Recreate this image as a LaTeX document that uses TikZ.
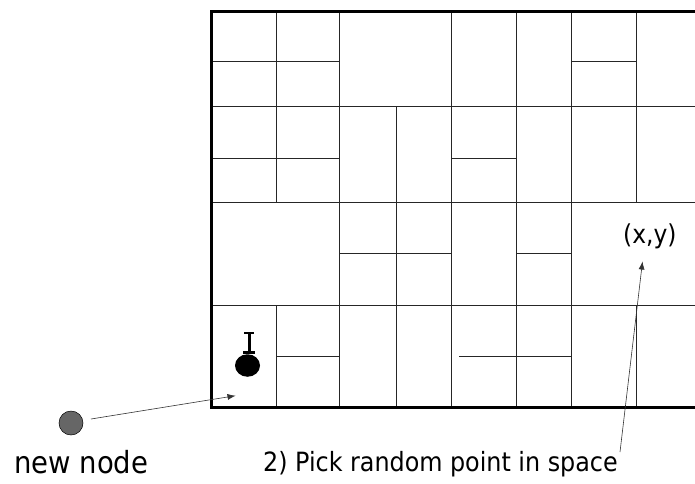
\documentclass[tikz,border=0pt]{standalone}
\usepackage{fontspec}
\setmainfont{DejaVu Sans Condensed}
\usetikzlibrary{arrows.meta,shapes.geometric}
\tikzset{
  grid/.style={draw=black!85, line width=0.8pt},
  frame/.style={draw=black, line width=2.8pt},
  lbl/.style={inner sep=0pt, anchor=base west, text=black},
  arr/.style={draw=black!80, line width=0.6pt, -{Latex[length=8pt,width=6pt]}},
}
\begin{document}
\begin{tikzpicture}[x=1pt,y=-1pt]
\useasboundingbox (0,0) rectangle (695,483);
\clip (0,0) rectangle (695,483);
\fill[white] (0,0) rectangle (695,483);
% full horizontal lines
\foreach \yy in {106,202,305} \draw[grid] (211,\yy) -- (700,\yy);
% row 1
\foreach \xx in {276,339,451,516,571,636} \draw[grid] (\xx,11) -- (\xx,106);
\draw[grid] (211,61.5) -- (339,61.5);
\draw[grid] (571,61.5) -- (636,61.5);
% row 2
\foreach \xx in {276,339,396,451,516,571,636} \draw[grid] (\xx,106) -- (\xx,202);
\draw[grid] (211,158) -- (339,158);
\draw[grid] (451,158) -- (516,158);
% row 3
\foreach \xx in {339,396,451,516,571} \draw[grid] (\xx,202) -- (\xx,305);
\draw[grid] (339,253) -- (451,253);
\draw[grid] (516,253) -- (571,253);
% row 4
\foreach \xx in {276,339,396,451,516,571,636} \draw[grid] (\xx,305) -- (\xx,408);
\draw[grid] (276,356) -- (339,356);
\draw[grid] (459,356) -- (571,356);
% frame
\draw[frame] (700,11.3) -- (211.3,11.3) -- (211.3,407.3) -- (700,407.3);
% robot
\node[fill=black, ellipse, minimum width=25pt, minimum height=22.5pt, inner sep=0pt] (robot) at (247.5,365.5) {};
\draw[line width=3pt] (249,332) -- (249,353);
\draw[line width=2.5pt] (244,333) -- (254,333);
\draw[line width=2.5pt] (243,352.5) -- (255,352.5);
% new node
\node[circle, draw=black, line width=0.5pt, fill=black!60, minimum size=24pt, inner sep=0pt] (newnode) at (71,423) {};
\node[lbl, font=\fontsize{30.5}{33}\selectfont] (newlbl) at (14,473) {new node};
\coordinate (nstart) at (91,419);
\coordinate (entry) at (235.5,395.7);
\draw[arr] (nstart) -- (entry);
% random point
\node[lbl, font=\fontsize{26}{30}\selectfont] (xy) at (623,243) {(x,y)};
\node[lbl, font=\fontsize{26.5}{30}\selectfont] (pick) at (263,471.5) {2) Pick random point in space};
\coordinate (pstart) at (620,452);
\coordinate (ptip) at (642.5,261.5);
\draw[arr] (pstart) -- (ptip);
\end{tikzpicture}
\end{document}
